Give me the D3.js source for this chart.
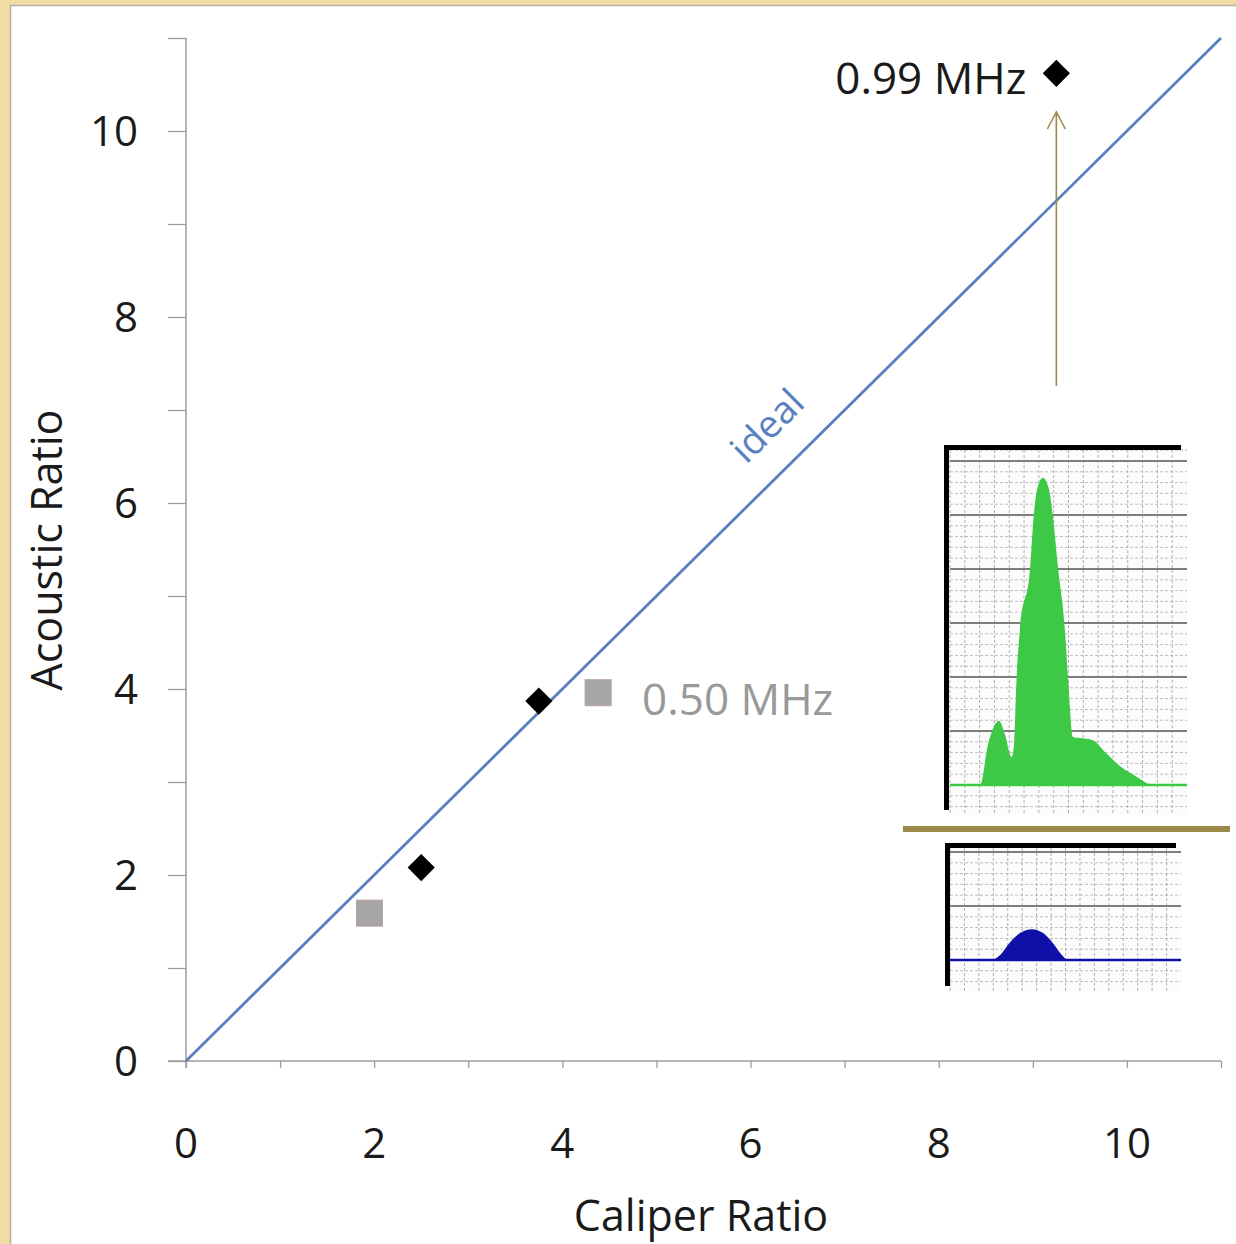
<!DOCTYPE html>
<html>
<head>
<meta charset="utf-8">
<script src="https://cdn.jsdelivr.net/npm/d3@7"></script>
<style>
  html, body { margin: 0; padding: 0; background: #ffffff; }
  svg { display: block; }
  text { font-family: "Open Sans", "DejaVu Sans", sans-serif; }
</style>
</head>
<body>
<svg id="chart" width="1236" height="1244"></svg>
<script>
// Axis ticks
const xTicks = [0, 2, 4, 6, 8, 10];
const yTicks = [0, 2, 4, 6, 8, 10];
const minorTicks = d3.range(0, 12);

// Measured points: caliper ratio vs acoustic ratio
const caliper099 = [2.5, 3.75, 9.25];
const acoustic099 = [2.08, 3.87, 10.62];
const caliper050 = [1.95, 4.38];
const acoustic050 = [1.59, 3.96];

// Ideal 1:1 line
const idealX = [0, 11];

// Spectrum traces for the insets (position 0-100, amplitude in grid divisions)
const greenPos = [0, 12.7, 16, 20.7, 23.2, 26, 27, 28.1, 29.5, 33.8, 35.4, 36.9, 39.2, 41.6, 43.3, 45.6, 48.5, 49.8, 51.9, 54.9, 60.3, 65.4, 71.7, 78.9, 84.4, 100];
const greenAmp = [0, 0, 0.74, 1.19, 0.93, 0.52, 0.74, 1.98, 2.87, 4.02, 5.02, 5.5, 5.69, 5.5, 5.02, 4.02, 2.87, 1.98, 0.89, 0.87, 0.83, 0.61, 0.35, 0.15, 0.02, 0];
const bluePos = [0, 18, 21.6, 26, 30.3, 35.4, 40.3, 44.6, 48.5, 51.1, 100];
const blueAmp = [0, 0, 0.09, 0.33, 0.5, 0.57, 0.5, 0.31, 0.09, 0, 0];

const svg = d3.select("#chart");

// Page frame
svg.append("rect").attr("x", 0).attr("y", 0).attr("width", 1236).attr("height", 1244).attr("fill", "#ffffff");
svg.append("rect").attr("x", 0).attr("y", 0).attr("width", 10).attr("height", 1244).attr("fill", "#f1dca4");
svg.append("rect").attr("x", 0).attr("y", 0).attr("width", 1236).attr("height", 5).attr("fill", "#f1dca4");
svg.append("line").attr("x1", 10.5).attr("y1", 5).attr("x2", 10.5).attr("y2", 1244).attr("stroke", "#b5b0a5").attr("stroke-width", 1.5);
svg.append("line").attr("x1", 10).attr("y1", 5.5).attr("x2", 1236).attr("y2", 5.5).attr("stroke", "#b5b0a5").attr("stroke-width", 1.5);

const x = d3.scaleLinear().domain([0, 11]).range([186, 1221]);
const y = d3.scaleLinear().domain([0, 11]).range([1061, 38]);

const axisColor = "#9d9d9d";

// X axis
const gx = svg.append("g").attr("transform", `translate(0,${y(0)})`)
  .call(d3.axisBottom(x).tickValues(minorTicks).tickSize(7).tickFormat(""));
gx.select(".domain").remove();
gx.selectAll(".tick line").attr("stroke", axisColor).attr("stroke-width", 1.3);
svg.append("line").attr("x1", 168).attr("x2", x(11)).attr("y1", y(0)).attr("y2", y(0))
  .attr("stroke", axisColor).attr("stroke-width", 1.5);
svg.append("g").selectAll("text").data(xTicks).join("text")
  .attr("x", d => x(d)).attr("y", 1158)
  .attr("text-anchor", "middle").attr("font-size", 42).attr("fill", "#1a1a1a")
  .text(d => d);

// Y axis
const gy = svg.append("g").attr("transform", `translate(${x(0)},0)`)
  .call(d3.axisLeft(y).tickValues(minorTicks).tickSize(18).tickFormat(""));
gy.select(".domain").remove();
gy.selectAll(".tick line").attr("stroke", axisColor).attr("stroke-width", 1.3);
svg.append("line").attr("x1", x(0)).attr("x2", x(0)).attr("y1", y(11)).attr("y2", y(0) + 7)
  .attr("stroke", axisColor).attr("stroke-width", 1.5);
svg.append("g").selectAll("text").data(yTicks).join("text")
  .attr("x", 138).attr("y", d => y(d))
  .attr("dy", "0.36em")
  .attr("text-anchor", "end").attr("font-size", 42).attr("fill", "#1a1a1a")
  .text(d => d);

// Axis titles
svg.append("text").attr("x", 701).attr("y", 1231)
  .attr("text-anchor", "middle").attr("font-size", 43).attr("fill", "#1a1a1a")
  .text("Caliper Ratio");
svg.append("text").attr("transform", "translate(62,550) rotate(-90)")
  .attr("text-anchor", "middle").attr("font-size", 43).attr("fill", "#1a1a1a")
  .text("Acoustic Ratio");

// Ideal line
const idealColor = "#5a7fbf";
svg.append("path")
  .datum(idealX)
  .attr("d", d3.line().x(d => x(d)).y(d => y(d)))
  .attr("stroke", idealColor).attr("stroke-width", 2.8).attr("fill", "none");
const angle = Math.atan2(y(1) - y(0), x(1) - x(0)) * 180 / Math.PI;
svg.append("text")
  .attr("transform", `translate(${x(6.5)},${y(6.5)}) rotate(${angle})`)
  .attr("y", -30)
  .attr("text-anchor", "middle").attr("font-size", 38).attr("fill", idealColor)
  .text("ideal");

// 0.50 MHz squares
const sq = 26;
svg.append("g").selectAll("rect").data(caliper050.map((c, i) => [c, acoustic050[i]])).join("rect")
  .attr("x", d => x(d[0]) - sq / 2).attr("y", d => y(d[1]) - sq / 2)
  .attr("width", sq).attr("height", sq)
  .attr("fill", "#a6a6a6").attr("stroke", "#b8a2a2").attr("stroke-width", 1);

// 0.99 MHz diamonds
const diamond = d3.symbol().type(d3.symbolSquare).size(370);
svg.append("g").selectAll("path").data(caliper099.map((c, i) => [c, acoustic099[i]])).join("path")
  .attr("transform", d => `translate(${x(d[0])},${y(d[1])}) rotate(45)`)
  .attr("d", diamond)
  .attr("fill", "#000000");

// Series labels
const lastHi = caliper099.length - 1;
svg.append("text")
  .attr("x", x(caliper099[lastHi]) - 30).attr("y", y(acoustic099[lastHi]) + 21)
  .attr("text-anchor", "end").attr("font-size", 44).attr("fill", "#1a1a1a")
  .text("0.99 MHz");
const lastLo = caliper050.length - 1;
svg.append("text")
  .attr("x", x(caliper050[lastLo]) + 44).attr("y", y(acoustic050[lastLo]) + 22)
  .attr("text-anchor", "start").attr("font-size", 44).attr("fill", "#999999")
  .text("0.50 MHz");

// Arrow from the spectrum up to the 0.99 MHz point
const gold = "#9c8a4a";
const ax = x(caliper099[lastHi]);
svg.append("line").attr("x1", ax).attr("x2", ax).attr("y1", 386).attr("y2", 113)
  .attr("stroke", gold).attr("stroke-width", 1.6);
svg.append("path")
  .attr("d", `M${ax - 9},129 L${ax},112 L${ax + 9},129`)
  .attr("stroke", gold).attr("stroke-width", 1.6).attr("fill", "none");

// Spectrum inset drawing
function inset(cfg) {
  const g = svg.append("g");
  const ix = d3.scaleLinear().domain([0, 100]).range([cfg.left, cfg.right]);
  const iy = d3.scaleLinear().domain([0, 1]).range([cfg.base, cfg.base - 54]);
  g.append("rect").attr("x", cfg.left).attr("y", cfg.top)
    .attr("width", cfg.right - cfg.left).attr("height", cfg.bottom - cfg.top)
    .attr("fill", "#fcfcfc");
  // fine grid
  const minorRows = d3.range(Math.ceil(iy.invert(cfg.bottom) * 5) / 5, iy.invert(cfg.top), 0.2);
  g.selectAll(".hminor").data(minorRows).join("line")
    .attr("x1", cfg.left).attr("x2", cfg.right)
    .attr("y1", d => iy(d)).attr("y2", d => iy(d))
    .attr("stroke", "#bdbdbd").attr("stroke-width", 1).attr("stroke-dasharray", "3,2");
  g.selectAll(".vminor").data(d3.range(0, 100, 100 / 16)).join("line")
    .attr("x1", d => ix(d)).attr("x2", d => ix(d))
    .attr("y1", cfg.top).attr("y2", cfg.bottom)
    .attr("stroke", "#b0b0b0").attr("stroke-width", 1).attr("stroke-dasharray", "3,2");
  // major grid
  const majorRows = d3.range(Math.ceil(iy.invert(cfg.bottom)), iy.invert(cfg.top), 1).filter(d => d !== 0);
  g.selectAll(".hmajor").data(majorRows).join("line")
    .attr("x1", cfg.left).attr("x2", cfg.right)
    .attr("y1", d => iy(d)).attr("y2", d => iy(d))
    .attr("stroke", "#7e7e7e").attr("stroke-width", 2);
  // trace
  const pts = cfg.pos.map((p, i) => [p, cfg.amp[i]]);
  g.append("path").datum(pts)
    .attr("d", d3.area().curve(d3.curveMonotoneX).x(d => ix(d[0])).y0(iy(0)).y1(d => iy(d[1])))
    .attr("fill", cfg.color);
  g.append("line").attr("x1", cfg.left).attr("x2", cfg.right)
    .attr("y1", iy(0)).attr("y2", iy(0))
    .attr("stroke", cfg.color).attr("stroke-width", 2.5);
  // frame
  g.append("rect").attr("x", cfg.frameLeft).attr("y", cfg.frameTop)
    .attr("width", cfg.frameRight - cfg.frameLeft).attr("height", 5).attr("fill", "#000");
  g.append("rect").attr("x", cfg.frameLeft).attr("y", cfg.frameTop)
    .attr("width", 5).attr("height", cfg.frameBottom - cfg.frameTop).attr("fill", "#000");
}

inset({
  left: 950, right: 1187, top: 450, bottom: 815, base: 785,
  frameLeft: 944, frameRight: 1181, frameTop: 445, frameBottom: 810,
  pos: greenPos, amp: greenAmp, color: "#3dc846"
});

// divider between the two spectra
svg.append("line").attr("x1", 903).attr("x2", 1230).attr("y1", 829).attr("y2", 829)
  .attr("stroke", gold).attr("stroke-width", 6);

inset({
  left: 950, right: 1181, top: 848, bottom: 992, base: 960,
  frameLeft: 945, frameRight: 1176, frameTop: 843, frameBottom: 986,
  pos: bluePos, amp: blueAmp, color: "#1010a8"
});
</script>
</body>
</html>
